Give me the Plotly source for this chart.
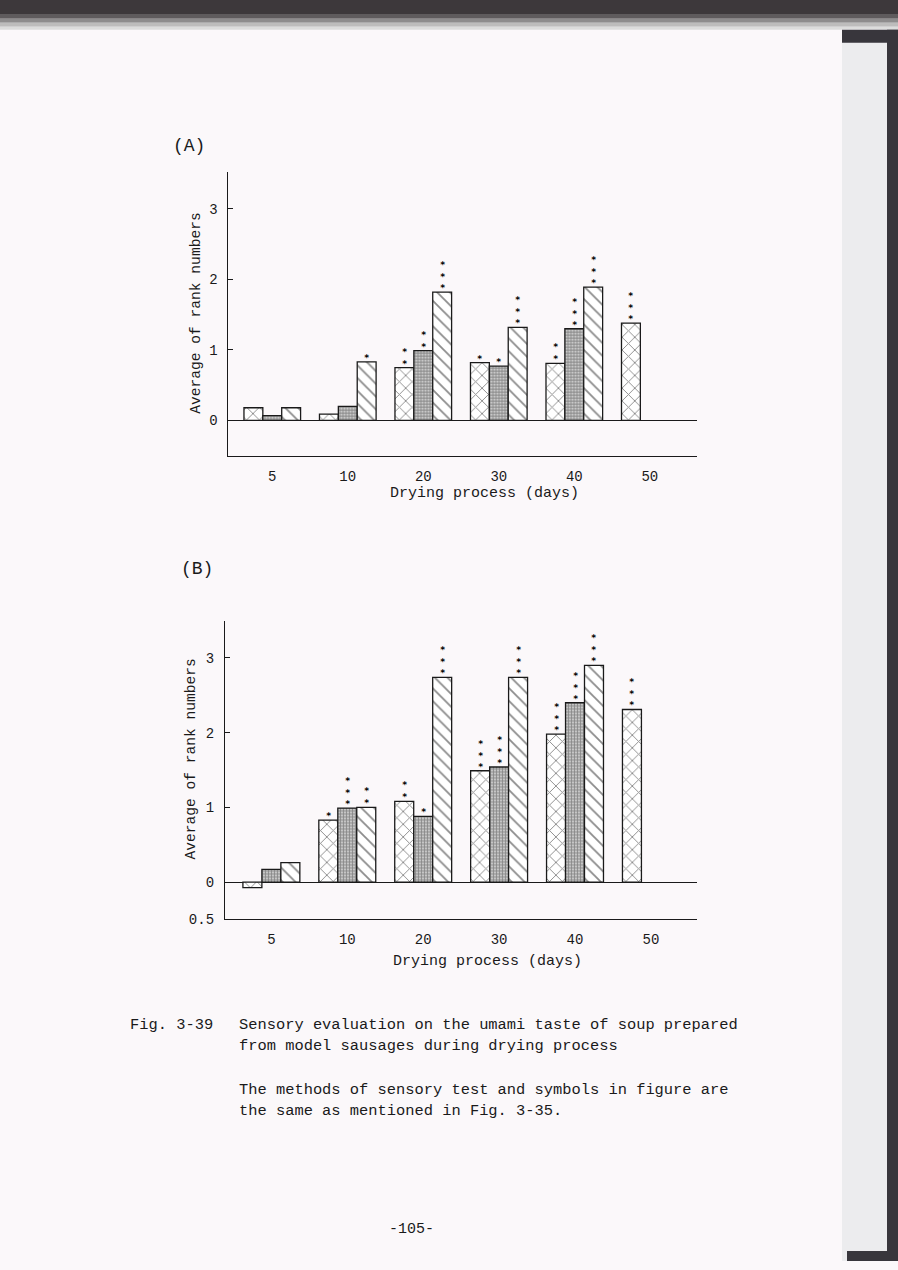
import plotly.graph_objects as go

# ---------------- data ----------------
days = ["5", "10", "20", "30", "40", "50"]
series_names = ["cross", "dots", "diag"]

a_cross = [0.18, 0.09, 0.75, 0.82, 0.81, 1.38]
a_dots = [0.07, 0.20, 0.99, 0.77, 1.30, None]
a_diag = [0.18, 0.83, 1.82, 1.32, 1.89, None]

b_cross = [-0.075, 0.83, 1.08, 1.49, 1.98, 2.31]
b_dots = [0.17, 0.99, 0.88, 1.54, 2.40, None]
b_diag = [0.26, 1.00, 2.74, 2.74, 2.90, None]

# number of significance marks stacked above each bar
a_sig_cross = [0, 0, 2, 1, 2, 3]
a_sig_dots = [0, 0, 2, 1, 3, 0]
a_sig_diag = [0, 1, 3, 3, 3, 0]

b_sig_cross = [0, 1, 2, 3, 3, 3]
b_sig_dots = [0, 3, 1, 3, 3, 0]
b_sig_diag = [0, 2, 3, 3, 3, 0]

a_yticks = [0, 1, 2, 3]
a_yticktext = ["0", "1", "2", "3"]
b_yticks = [-0.5, 0, 1, 2, 3]
b_yticktext = ["0.5", "0", "1", "2", "3"]

x_title = "Drying process (days)"
y_title = "Average of rank numbers"
caption_fig = "Fig. 3-39"
caption_lines = [
    "Sensory evaluation on the umami taste of soup prepared",
    "from model sausages during drying process",
    "The methods of sensory test and symbols in figure are",
    "the same as mentioned in Fig. 3-35.",
]
page_number = "-105-"

# ---------------- styling ----------------
W, H = 898, 1270
INK = "#1a1a1a"
PAGE = "#fbf8fa"
MONO = "Liberation Mono"

patterns = {
    "cross": dict(shape="x", size=9, solidity=0.2, fgcolor=INK, bgcolor="white"),
    "dots": dict(shape=".", size=3, solidity=0.75, fgcolor="#111111", bgcolor="white"),
    "diag": dict(shape="\\", size=9, solidity=0.2, fgcolor=INK, bgcolor="white"),
}

def px_x(p):
    return p / W

def px_y(p):
    return 1 - p / H

fig = go.Figure()
xidx = list(range(len(days)))

panels = [
    ("x", "y", [a_cross, a_dots, a_diag], [a_sig_cross, a_sig_dots, a_sig_diag]),
    ("x2", "y2", [b_cross, b_dots, b_diag], [b_sig_cross, b_sig_dots, b_sig_diag]),
]

annotations = []
for xa, ya, series, sigs in panels:
    for i, (name, vals) in enumerate(zip(series_names, series)):
        fig.add_trace(go.Bar(
            x=xidx, y=vals, name=name, xaxis=xa, yaxis=ya,
            marker=dict(color="white", line=dict(color=INK, width=1.3),
                        pattern=patterns[name]),
            showlegend=False, hoverinfo="skip",
        ))
        for j, (v, n) in enumerate(zip(vals, sigs[i])):
            if v is None or n == 0:
                continue
            annotations.append(dict(
                x=j + (i - 1) * 0.25, y=max(v, 0), xref=xa, yref=ya,
                text="<br>".join(["<b>*</b>"] * n), showarrow=False,
                yanchor="bottom", yshift=-2, borderpad=0,
                font=dict(family="DejaVu Sans Mono", size=9, color="#000000"),
            ))

axis_common = dict(showgrid=False, showline=True, linecolor=INK, linewidth=1.3)
tickfont = dict(family=MONO, size=14, color=INK)

fig.update_layout(
    width=W, height=H,
    margin=dict(l=0, r=0, t=0, b=0),
    paper_bgcolor=PAGE, plot_bgcolor="rgba(0,0,0,0)",
    barmode="group", bargap=0.25, bargroupgap=0,
    font=dict(family=MONO, color=INK),
    xaxis=dict(domain=[px_x(227.5), px_x(697)], anchor="y",
               range=[-0.593, 5.625], tickvals=xidx, ticktext=days,
               ticks="", ticklabelstandoff=7, zeroline=False,
               tickfont=tickfont, **axis_common),
    yaxis=dict(domain=[px_y(459), px_y(173)], anchor="x",
               range=[-0.5, 3.525], tickvals=a_yticks, ticktext=a_yticktext,
               ticks="inside", ticklen=5, tickcolor=INK, ticklabelstandoff=6,
               zeroline=True, zerolinecolor=INK, zerolinewidth=1.3,
               tickfont=tickfont, **axis_common),
    xaxis2=dict(domain=[px_x(225), px_x(697)], anchor="y2",
                range=[-0.611, 5.607], tickvals=xidx, ticktext=days,
                ticks="", ticklabelstandoff=7, zeroline=False,
                tickfont=tickfont, **axis_common),
    yaxis2=dict(domain=[px_y(926), px_y(625)], anchor="x2",
                range=[-0.5, 3.5], tickvals=b_yticks, ticktext=b_yticktext,
                ticks="inside", ticklen=5, tickcolor=INK, ticklabelstandoff=7,
                zeroline=True, zerolinecolor=INK, zerolinewidth=1.3,
                tickfont=tickfont, **axis_common),
)

def txt(x, y, s, size, xanchor="center", angle=0):
    return dict(x=px_x(x), y=px_y(y), xref="paper", yref="paper", text=s,
                showarrow=False, xanchor=xanchor, yanchor="middle",
                textangle=angle, font=dict(family=MONO, size=size, color=INK))

annotations += [
    txt(189, 147, "(A)", 18),
    txt(197, 573, "(B)", 18),
    txt(485, 497, x_title, 15),
    txt(487, 968, x_title, 15),
    txt(196, 316, y_title, 14.6, angle=-90),
    txt(191, 765, y_title, 14.6, angle=-90),
    txt(128, 1032, caption_fig, 15.4, xanchor="left"),
    txt(237, 1032, caption_lines[0], 15.4, xanchor="left"),
    txt(237, 1053, caption_lines[1], 15.4, xanchor="left"),
    txt(237, 1098, caption_lines[2], 15.4, xanchor="left"),
    txt(237, 1119, caption_lines[3], 15.4, xanchor="left"),
    txt(411, 1238, page_number, 15),
]
fig.update_layout(annotations=annotations)

# scanned-page surroundings
def rect(x0, y0, x1, y1, color):
    return dict(type="rect", xref="paper", yref="paper",
                x0=px_x(x0), x1=px_x(x1), y0=px_y(y1), y1=px_y(y0),
                fillcolor=color, line=dict(width=0), layer="below")

shapes = [
    rect(0, 0, W, 14, "#3d383b"),
    rect(0, 14, W, 19, "#5f5b5d"),
    rect(0, 19, W, 23, "#8e8c8d"),
    rect(0, 23, W, 27, "#bdbcbc"),
    rect(0, 27, W, 30, "#dcdcdc"),
    rect(842, 30, 887, H, "#ececee"),
    rect(842, 30, W, 43, "#38363c"),
    rect(887, 30, W, H, "#38363c"),
    rect(847, 1260, W, H, "#38363c"),
]
fig.update_layout(shapes=shapes)

fig.write_html("out.html")
